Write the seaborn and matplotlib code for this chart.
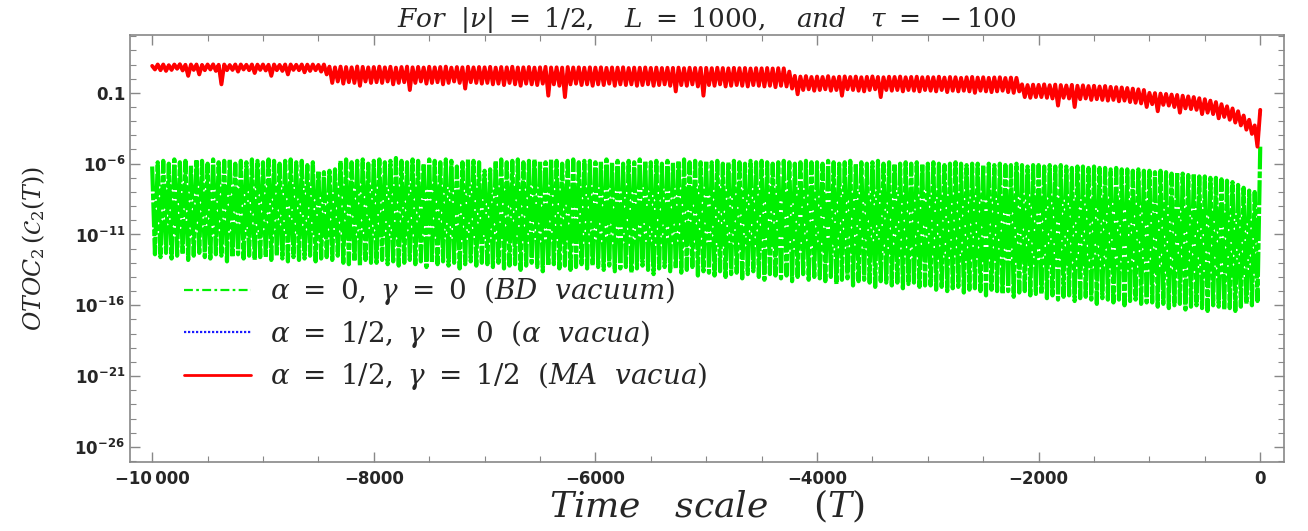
import numpy as np
import pandas as pd
import matplotlib
matplotlib.use("Agg")
import matplotlib.pyplot as plt
import seaborn as sns

# time grid: peaks at even samples, troughs at odd samples (step 25)
T = np.arange(-10000, 1, 25)

# log10 of OTOC_2, BD vacuum (green) - upper and lower turning points
green_hi = [
    -6.2, -5.9, -5.8, -6.0, -5.7, -5.9, -5.8, -6.1, -5.7, -5.8, -6.0, -5.7, -5.9, -5.8, -5.7, -6.0, -5.8, -5.9, -5.7, -5.8,
    -5.9, -5.7, -5.8, -6.0, -5.8, -5.7, -5.9, -5.8, -6.1, -5.9, -6.5, -6.6, -6.5, -6.4, -5.8, -5.7, -5.9, -5.8, -5.7, -6.0,
    -5.8, -5.7, -5.9, -5.8, -5.6, -5.8, -5.9, -5.7, -5.8, -6.0, -5.7, -5.8, -5.9, -5.7, -5.8, -6.2, -5.9, -5.7, -5.8, -5.9,
    -6.5, -6.4, -5.8, -5.7, -5.9, -5.8, -5.7, -5.9, -5.8, -5.7, -5.8, -5.9, -5.7, -5.8, -6.0, -5.8, -5.7, -5.9, -5.8, -5.8,
    -5.9, -5.8, -5.7, -5.9, -5.8, -6.0, -5.8, -5.9, -5.7, -5.8, -5.9, -5.8, -6.0, -5.8, -5.9, -5.8, -5.7, -5.9, -5.8, -5.9,
    -5.8, -5.9, -5.8, -6.0, -5.9, -5.8, -5.9, -6.0, -5.8, -5.9, -5.8, -5.9, -6.0, -5.9, -5.8, -5.9, -6.0, -5.9, -5.8, -5.9,
    -5.9, -6.0, -5.8, -5.9, -6.0, -5.9, -5.8, -6.0, -5.9, -6.0, -5.9, -5.8, -6.0, -5.9, -6.0, -6.0, -5.9, -6.0, -5.9, -6.0,
    -6.0, -5.9, -6.0, -6.1, -6.0, -5.9, -6.0, -6.1, -6.0, -6.0, -6.1, -6.0, -6.1, -6.0, -6.1, -6.1, -6.0, -6.1, -6.2, -6.1,
    -6.1, -6.2, -6.1, -6.2, -6.1, -6.2, -6.3, -6.2, -6.2, -6.3, -6.2, -6.3, -6.3, -6.4, -6.3, -6.4, -6.4, -6.5, -6.4, -6.5,
    -6.5, -6.6, -6.5, -6.6, -6.7, -6.6, -6.7, -6.8, -6.7, -6.9, -6.9, -7.0, -7.0, -7.1, -7.2, -7.3, -7.5, -7.7, -7.9, -8.0,
    -4.8,
]
green_lo = [
    -12.4, -12.6, -12.3, -12.7, -12.5, -12.4, -12.8, -12.5, -12.3, -12.6, -12.7, -12.4, -12.5, -12.9, -12.6, -12.4, -12.7, -12.5, -12.8, -12.6,
    -12.6, -12.8, -12.5, -12.7, -12.9, -12.6, -12.8, -12.7, -12.5, -12.9, -12.7, -12.6, -12.8, -12.5, -13.0, -13.1, -12.9, -13.2, -12.8, -13.0,
    -13.0, -12.8, -13.1, -12.9, -13.2, -13.0, -12.8, -13.1, -12.9, -13.3, -13.0, -13.1, -12.9, -13.2, -13.0, -13.4, -13.1, -12.9, -13.2, -13.0,
    -13.1, -13.3, -13.0, -13.4, -13.2, -13.1, -13.5, -13.2, -13.0, -13.3, -13.6, -13.2, -13.1, -13.4, -13.2, -13.5, -13.3, -13.1, -13.4, -13.2,
    -13.3, -13.5, -13.2, -13.6, -13.4, -13.3, -13.7, -13.4, -13.2, -13.5, -13.8, -13.4, -13.3, -13.6, -13.4, -13.7, -13.5, -13.3, -13.9, -13.6,
    -13.7, -13.9, -13.6, -14.0, -13.8, -13.7, -14.1, -13.8, -13.6, -14.0, -14.2, -13.8, -13.9, -14.1, -13.9, -14.3, -14.0, -13.8, -14.2, -14.0,
    -14.1, -14.3, -14.0, -14.5, -14.2, -14.1, -14.6, -14.3, -14.2, -14.4, -14.7, -14.3, -14.4, -14.6, -14.4, -14.8, -14.5, -14.4, -14.7, -14.6,
    -14.6, -14.9, -14.7, -15.0, -14.8, -14.7, -15.1, -14.9, -14.8, -15.0, -15.3, -14.9, -15.0, -15.2, -15.0, -15.4, -15.1, -15.0, -15.3, -15.2,
    -15.2, -15.5, -15.3, -15.6, -15.4, -15.3, -15.7, -15.5, -15.4, -15.6, -15.9, -15.5, -15.6, -15.8, -15.6, -16.0, -15.7, -15.6, -15.9, -15.8,
    -15.8, -16.1, -15.9, -16.2, -16.0, -15.9, -16.3, -16.1, -16.0, -16.2, -16.4, -16.0, -16.1, -16.3, -16.2, -16.4, -16.1, -15.9, -16.0, -15.7,
]

# log10 of OTOC_2, alpha vacua / MA vacua (red on top of blue, they coincide)
red_hi = [
    0.90, 1.00, 1.00, 0.95, 1.00, 1.02, 0.98, 1.00, 1.00, 0.97, 1.00, 1.01, 0.98, 1.00, 0.96, 1.00, 1.00, 0.98, 1.00, 0.99,
    1.00, 0.98, 1.00, 0.97, 1.00, 1.00, 0.98, 1.00, 0.99, 1.00, 0.97, 1.00, 0.85, 0.80, 0.85, 0.82, 0.80, 0.86, 0.83, 0.80,
    0.82, 0.85, 0.80, 0.84, 0.78, 0.82, 0.85, 0.80, 0.83, 0.79, 0.84, 0.80, 0.82, 0.85, 0.78, 0.82, 0.80, 0.84, 0.80, 0.82,
    0.80, 0.83, 0.78, 0.82, 0.80, 0.84, 0.79, 0.80, 0.82, 0.78, 0.80, 0.83, 0.79, 0.80, 0.78, 0.82, 0.79, 0.80, 0.77, 0.80,
    0.78, 0.80, 0.76, 0.79, 0.78, 0.80, 0.75, 0.78, 0.77, 0.79, 0.76, 0.78, 0.75, 0.77, 0.76, 0.78, 0.74, 0.77, 0.75, 0.76,
    0.76, 0.74, 0.77, 0.75, 0.73, 0.76, 0.74, 0.75, 0.72, 0.74, 0.73, 0.75, 0.72, 0.74, 0.73, 0.50, 0.20, 0.15, 0.18, 0.12,
    0.15, 0.12, 0.18, 0.10, 0.14, 0.16, 0.12, 0.15, 0.10, 0.13, 0.16, 0.12, 0.10, 0.14, 0.12, 0.15, 0.10, 0.12, 0.14, 0.10,
    0.12, 0.10, 0.14, 0.08, 0.12, 0.10, 0.06, 0.10, 0.12, 0.08, 0.10, 0.06, 0.09, 0.10, 0.05, 0.08, 0.06, -0.40, -0.45, -0.42,
    -0.44, -0.40, -0.46, -0.42, -0.45, -0.48, -0.44, -0.50, -0.47, -0.52, -0.50, -0.55, -0.52, -0.58, -0.60, -0.62, -0.66, -0.70, -0.75, -0.80,
    -1.00, -1.02, -1.05, -1.08, -1.12, -1.15, -1.20, -1.25, -1.30, -1.38, -1.45, -1.55, -1.65, -1.80, -1.95, -2.10, -2.30, -2.60, -2.90, -3.30,
    -2.20,
]
red_lo = [
    0.65, 0.60, 0.55, 0.62, 0.70, 0.58, 0.20, 0.62, 0.30, 0.60, 0.65, 0.55, -0.40, 0.60, 0.62, 0.50, 0.65, 0.60, 0.40, 0.62,
    0.58, 0.20, 0.60, 0.55, 0.30, 0.62, 0.60, 0.45, 0.55, 0.60, 0.50, 0.30, -0.30, -0.20, -0.35, -0.25, -0.30, -0.50, -0.20, -0.30,
    -0.25, -0.30, -0.20, -0.40, -0.30, -0.25, -0.80, -0.30, -0.20, -0.35, -0.30, -0.25, -0.40, -0.30, -0.20, -0.30, -0.70, -0.25, -0.30, -0.35,
    -0.30, -0.40, -0.35, -0.45, -0.30, -0.40, -0.50, -0.35, -0.40, -0.45, -0.35, -1.20, -0.40, -0.50, -1.30, -0.40, -0.35, -0.45, -0.40, -0.50,
    -0.40, -0.45, -0.35, -0.50, -0.40, -0.45, -0.40, -0.50, -0.45, -0.40, -0.50, -0.45, -0.40, -0.50, -0.90, -0.45, -0.50, -0.40, -0.55, -1.20,
    -0.45, -0.50, -0.40, -0.55, -0.50, -0.45, -0.50, -0.55, -0.45, -0.50, -0.55, -0.50, -0.60, -0.50, -0.55, -0.70, -1.10, -0.80, -0.75, -0.85,
    -0.80, -0.75, -0.85, -0.80, -1.20, -0.75, -0.80, -0.85, -0.90, -0.80, -0.75, -1.30, -0.80, -0.85, -0.80, -0.90, -0.80, -0.85, -0.90, -0.80,
    -0.85, -0.90, -0.80, -0.95, -0.85, -0.90, -0.85, -0.90, -1.00, -0.85, -0.90, -0.95, -0.90, -0.85, -0.95, -1.00, -0.90, -1.30, -1.35, -1.30,
    -1.30, -1.35, -1.40, -1.90, -1.35, -1.40, -2.00, -1.45, -1.40, -1.50, -1.45, -1.50, -1.55, -1.50, -1.60, -1.55, -1.65, -1.70, -1.75, -2.00,
    -1.80, -2.30, -1.85, -1.90, -2.00, -2.40, -2.10, -2.15, -2.20, -2.50, -2.40, -2.50, -2.80, -2.70, -2.90, -3.10, -3.30, -3.60, -3.90, -4.80,
]

labels = [
    r"$\alpha\ =\ 0,\ \gamma\ =\ 0\ \ (BD\ \ vacuum)$",
    r"$\alpha\ =\ 1/2,\ \gamma\ =\ 0\ \ (\alpha\ \ vacua)$",
    r"$\alpha\ =\ 1/2,\ \gamma\ =\ 1/2\ \ (MA\ \ vacua)$",
]


def interleave(hi, lo):
    out = np.empty(len(hi) + len(lo))
    out[0::2] = hi
    out[1::2] = lo
    return 10.0 ** out


df = pd.DataFrame({
    "T": T,
    "bd": interleave(green_hi, green_lo),
    "ma": interleave(red_hi, red_lo),
})

sns.set_style("ticks")
plt.rcParams["mathtext.fontset"] = "dejavuserif"
plt.rcParams["font.family"] = ["DejaVu Sans"]

fig = plt.figure(figsize=(13.08, 5.31), dpi=100)
ax = fig.add_axes([0.0994, 0.130, 0.8823, 0.804])

sns.lineplot(data=df, x="T", y="bd", ax=ax, color="#00f000", lw=3.0,
             linestyle=(0, (6, 0.5, 1.6, 0.5)), label=labels[0],
             estimator=None, sort=False)
sns.lineplot(data=df, x="T", y="ma", ax=ax, color="#1a1aff", lw=2.0,
             linestyle=(0, (1.0, 0.8)), label=labels[1],
             estimator=None, sort=False)
sns.lineplot(data=df, x="T", y="ma", ax=ax, color="#ff0000", lw=2.8,
             linestyle="-", label=labels[2], estimator=None, sort=False)

ax.set_yscale("log")
ax.set_xlim(-10200, 215)
ax.set_ylim(10 ** -27.06, 10 ** 3.08)

yt = [1e-26, 1e-21, 1e-16, 1e-11, 1e-6, 1e-1]
ylab = [r"$\mathbf{10^{-26}}$", r"$\mathbf{10^{-21}}$", r"$\mathbf{10^{-16}}$",
        r"$\mathbf{10^{-11}}$", r"$\mathbf{10^{-6}}$", "0.1"]
ax.set_yticks(yt)
ax.set_yticklabels(ylab, fontweight="bold", fontsize=12, math_fontfamily="dejavusans")
ax.set_yticks([10.0 ** k for k in range(-27, 4)], minor=True)
ax.yaxis.set_minor_formatter(matplotlib.ticker.NullFormatter())

xt = [-10000, -8000, -6000, -4000, -2000, 0]
ax.set_xticks(xt)
ax.set_xticklabels(["\u221210\u2009000", "\u22128000", "\u22126000", "\u22124000", "\u22122000", "0"],
                   fontweight="bold", fontsize=12)
ax.set_xticks(np.arange(-10000, 1, 500), minor=True)

ax.tick_params(which="both", direction="in", top=True, right=True, color="#888888")
ax.tick_params(which="major", length=7, width=1)
ax.tick_params(which="minor", length=4, width=0.8)
ax.tick_params(axis="x", which="major", pad=6)
for s in ax.spines.values():
    s.set_color("#888888")
    s.set_linewidth(1.2)

ax.set_title(r"$For\ \ |\nu|\ =\ 1/2,\ \ \ L\ =\ 1000,\ \ \ and\ \ \ \tau\ =\ -100$", fontsize=19, pad=6)
ax.set_xlabel(r"$Time\ \ \ scale\ \ \ \ (T)$", fontsize=26, labelpad=0)
ax.set_ylabel(r"$OTOC_2\,(\mathcal{C}_2(T))$", fontsize=17, labelpad=20)

leg = ax.legend(loc="center left", bbox_to_anchor=(0.025, 0.30), frameon=False,
                fontsize=20, handlelength=2.4, handletextpad=0.7, labelspacing=0.38)
lines = leg.get_lines()
lines[0].set_linewidth(1.6)
lines[0].set_dashes([4, 1.5, 1.2, 1.5])
lines[1].set_linewidth(1.6)
lines[2].set_linewidth(2.0)

fig.savefig("out.png", dpi=100)
